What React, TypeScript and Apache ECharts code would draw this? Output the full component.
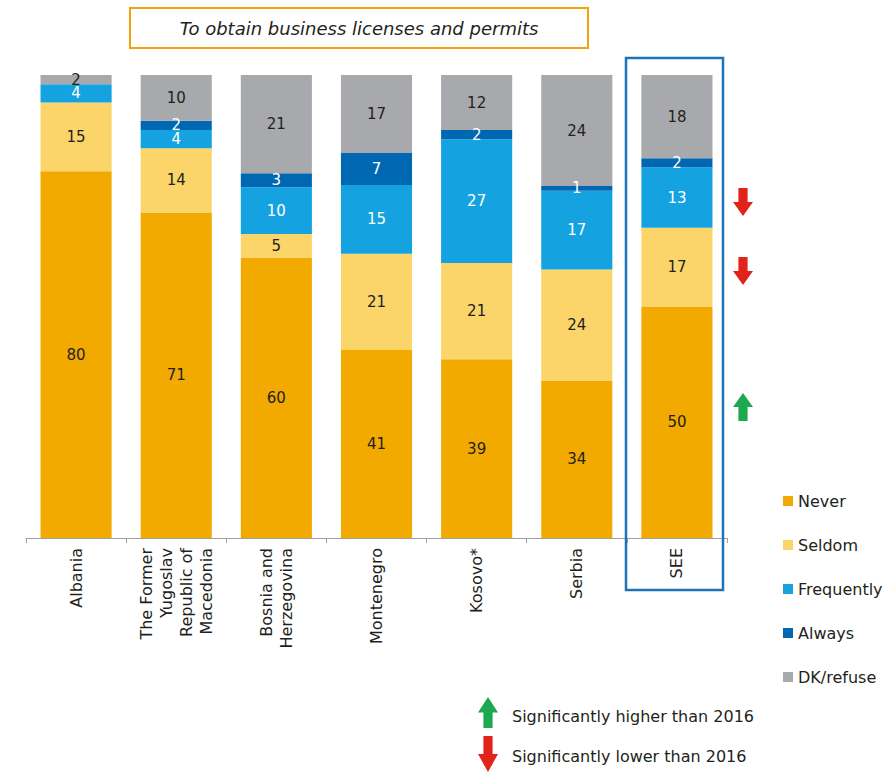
import React, { useEffect, useRef } from "react";
import * as echarts from "echarts";

const categories = [
  "Albania",
  "The Former\nYugoslav\nRepublic of\nMacedonia",
  "Bosnia and\nHerzegovina",
  "Montenegro",
  "Kosovo*",
  "Serbia",
  "SEE",
];
const never = [80, 71, 60, 41, 39, 34, 50];
const seldom = [15, 14, 5, 21, 21, 24, 17];
const frequently = [4, 4, 10, 15, 27, 17, 13];
const always = [0, 2, 3, 7, 2, 1, 2];
const dkRefuse = [2, 10, 21, 17, 12, 24, 18];

const seriesDefs = [
  { name: "Never", data: never, color: "#F2A900", label: "#231f20" },
  { name: "Seldom", data: seldom, color: "#FBD56A", label: "#231f20" },
  { name: "Frequently", data: frequently, color: "#14A3E0", label: "#ffffff" },
  { name: "Always", data: always, color: "#0068B3", label: "#ffffff" },
  { name: "DK/refuse", data: dkRefuse, color: "#A7A9AC", label: "#231f20" },
];

const FONT = "DejaVu Sans";

function downArrow(cx: number, top: number, h: number, w: number, color: string) {
  const s = w * 0.23;
  const hh = h * 0.5;
  return {
    type: "polygon",
    shape: {
      points: [
        [cx - s, top],
        [cx + s, top],
        [cx + s, top + hh],
        [cx + w / 2, top + hh],
        [cx, top + h],
        [cx - w / 2, top + hh],
        [cx - s, top + hh],
      ],
    },
    style: { fill: color },
    z: 10,
  };
}
function upArrow(cx: number, top: number, h: number, w: number, color: string) {
  const s = w * 0.23;
  const hh = h * 0.5;
  const bot = top + h;
  return {
    type: "polygon",
    shape: {
      points: [
        [cx - s, bot],
        [cx + s, bot],
        [cx + s, bot - hh],
        [cx + w / 2, bot - hh],
        [cx, top],
        [cx - w / 2, bot - hh],
        [cx - s, bot - hh],
      ],
    },
    style: { fill: color },
    z: 10,
  };
}

export default function App() {
  const ref = useRef<HTMLDivElement>(null);
  useEffect(() => {
    if (!ref.current) return;
    const chart = echarts.init(ref.current, undefined, { renderer: "svg" });
    const totals = categories.map((_, i) =>
      seriesDefs.reduce((s, d) => s + d.data[i], 0)
    );
    const red = "#E2231A";
    const green = "#1DA94F";
    chart.setOption({
      animation: false,
      grid: { left: 26, right: 164, top: 75, bottom: 238, containLabel: false },
      xAxis: {
        type: "category",
        data: categories,
        axisLine: { lineStyle: { color: "#A0A0A0", width: 1 } },
        axisTick: { show: true, length: 5, lineStyle: { color: "#A0A0A0" } },
        axisLabel: {
          rotate: 90,
          interval: 0,
          margin: 10,
          fontFamily: FONT,
          fontSize: 16,
          lineHeight: 20,
          color: "#231f20",
        },
      },
      yAxis: { type: "value", min: 0, max: 100, show: false },
      legend: {
        orient: "vertical",
        left: 778,
        top: 488,
        itemWidth: 10,
        itemHeight: 10,
        itemGap: 28,
        icon: "rect",
        textStyle: { fontFamily: FONT, fontSize: 16, color: "#231f20" },
        data: seriesDefs.map((d) => d.name),
      },
      series: seriesDefs.map((d) => ({
        name: d.name,
        type: "bar",
        stack: "total",
        barCategoryGap: "29%",
        itemStyle: { color: d.color },
        data: d.data.map((v, i) => (v / totals[i]) * 100),
        label: {
          show: true,
          position: "inside",
          fontFamily: FONT,
          fontSize: 15,
          color: d.label,
          formatter: (p: any) => {
            const v = d.data[p.dataIndex];
            return v > 0 ? String(v) : "";
          },
        },
      })),
      graphic: [
        {
          type: "rect",
          shape: { x: 130, y: 8, width: 458, height: 40 },
          style: { fill: "#ffffff", stroke: "#F0A30A", lineWidth: 2 },
        },
        {
          type: "text",
          x: 359,
          y: 28,
          style: {
            text: "To obtain business licenses and permits",
            fontFamily: FONT,
            fontStyle: "italic",
            fontSize: 18,
            fill: "#231f20",
            align: "center",
            verticalAlign: "middle",
          },
        },
        {
          type: "rect",
          shape: { x: 626, y: 58, width: 97, height: 532 },
          style: { fill: "none", stroke: "#1F74B8", lineWidth: 2.5 },
          z: 20,
        },
        downArrow(743, 188, 28, 20, red),
        downArrow(743, 257, 28, 20, red),
        upArrow(743, 393, 28, 20, green),
        upArrow(488, 697, 31, 20, green),
        downArrow(488, 736, 36, 20, red),
        {
          type: "text",
          x: 512,
          y: 716,
          style: {
            text: "Significantly higher than 2016",
            fontFamily: FONT,
            fontSize: 16,
            fill: "#231f20",
            verticalAlign: "middle",
          },
        },
        {
          type: "text",
          x: 512,
          y: 756,
          style: {
            text: "Significantly lower than 2016",
            fontFamily: FONT,
            fontSize: 16,
            fill: "#231f20",
            verticalAlign: "middle",
          },
        },
      ],
    });
    return () => chart.dispose();
  }, []);
  return <div ref={ref} style={{ width: 891, height: 776, position: "absolute", left: 0, top: 0 }} />;
}
